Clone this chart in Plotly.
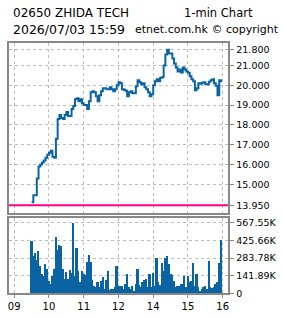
import plotly.graph_objects as go

# ---- data (3-minute samples, trading minutes from 09:30, lunch removed) ----
price = [14.1, 14.45, 14.45, 15.3, 15.9, 16.0, 16.1, 16.2, 16.35, 16.5,
         16.6, 16.7, 16.4, 16.35, 17.3, 18.3, 18.5, 18.35, 18.3, 18.5,
         18.65, 18.45, 18.45, 18.8, 18.95, 19.3, 19.35, 19.2, 19.3, 19.1,
         19.0, 19.0, 18.8, 19.2, 19.65, 19.7, 19.65, 19.45, 19.2, 19.5,
         19.7, 19.85, 19.85, 19.8, 19.8, 19.9, 19.8, 19.7, 19.8, 20.0,
         20.15, 20.1, 19.8, 19.78, 19.72, 19.45, 19.65, 19.7, 19.6, 19.6,
         19.95, 20.25, 20.15, 20.05, 20.1, 19.9, 19.8, 19.65, 19.45, 19.55,
         20.0, 20.2, 20.3, 20.2, 20.38, 20.4, 21.0, 21.55, 21.8, 21.6,
         21.6, 21.35, 21.1, 20.9, 20.7, 20.8, 20.65, 20.9, 20.8, 20.7,
         20.63, 20.46, 20.3, 20.2, 19.75, 19.85, 20.1, 20.08, 20.13, 20.15,
         20.05, 20.05, 20.18, 20.25, 20.3, 20.1, 19.98, 19.5, 20.25, 20.15]

volume_k = [425, 300, 326, 273, 339, 220, 160, 142, 234, 200,
            100, 76, 140, 200, 457, 352, 392, 380, 200, 116,
            175, 116, 190, 168, 567.55, 142, 365, 180, 95, 181,
            155, 150, 250, 313, 250, 110, 60, 50, 89, 50,
            102, 129, 37, 110, 181, 30, 40, 37, 55, 221,
            63, 60, 63, 37, 76, 155, 50, 37, 63, 20,
            75, 194, 70, 50, 90, 110, 116, 50, 155, 55,
            168, 60, 286, 89, 65, 247, 181, 286, 300, 234,
            155, 150, 102, 55, 63, 63, 76, 76, 140, 50,
            142, 90, 102, 247, 63, 160, 50, 20, 37, 50,
            63, 37, 260, 50, 45, 50, 76, 89, 247, 431]

step = 3
minutes = [i * step for i in range(len(price))]
volume = [v * 1000 for v in volume_k]

prev_close = 13.95
price_ticks = [13.95, 15, 16, 17, 18, 19, 20, 21, 21.8]
price_labels = ["13.950", "15.000", "16.000", "17.000", "18.000",
                "19.000", "20.000", "21.000", "21.800"]
vol_ticks = [0, 141890, 283780, 425660, 567550]
vol_labels = ["0", "141.89K", "283.78K", "425.66K", "567.55K"]
hour_ticks = [-30, 30, 90, 150, 210, 270, 330]
hour_labels = ["09", "10", "11", "12", "14", "15", "16"]

title_left1 = "02650 ZHIDA TECH"
title_right1 = "1-min Chart"
title_left2 = "2026/07/03 15:59"
title_right2 = "etnet.com.hk © copyright"

blue = "#0a64a4"
grid = "#bdbdbd"
frame = "#888888"
font = "DejaVu Sans"

W, H = 285, 318
xr = [-39.1, 339.8]

fig = go.Figure()
fig.add_trace(go.Scatter(x=minutes, y=price, mode="lines",
                         line=dict(color=blue, width=2, shape="hv"),
                         xaxis="x", yaxis="y", showlegend=False))
fig.add_trace(go.Scatter(x=[xr[0], xr[1]], y=[prev_close, prev_close], mode="lines",
                         line=dict(color="#ff0080", width=2),
                         xaxis="x", yaxis="y", showlegend=False))
fig.add_trace(go.Bar(x=minutes, y=volume, width=step, marker=dict(color=blue, line=dict(width=0)),
                     xaxis="x2", yaxis="y2", showlegend=False))

xd = [8 / W, 229 / W]
common_x = dict(range=xr, tickvals=hour_ticks, showgrid=True, gridcolor=grid,
                griddash="3px,3px", gridwidth=1, showline=True, mirror=True,
                linecolor=frame, linewidth=2, zeroline=False, domain=xd)

fig.update_layout(
    width=W, height=H, margin=dict(l=0, r=0, t=0, b=0),
    paper_bgcolor="white", plot_bgcolor="white", bargap=0,
    font=dict(family=font, size=9.5, color="black"),
    xaxis=dict(**common_x, showticklabels=False, ticks="", anchor="y"),
    xaxis2=dict(**common_x, ticktext=hour_labels, showticklabels=True,
                ticks="outside", ticklen=3, tickcolor=frame, anchor="y2",
                tickfont=dict(family=font, size=10)),
    yaxis=dict(domain=[1 - 216 / H, 1 - 42.7 / H], range=[13.56, 22.14],
               side="right", tickvals=price_ticks, ticktext=price_labels,
               ticks="outside", ticklen=4, tickcolor=frame,
               showgrid=True, gridcolor=grid, griddash="3px,3px",
               showline=True, mirror=True, linecolor=frame, linewidth=2,
               zeroline=False, anchor="x"),
    yaxis2=dict(domain=[1 - 298 / H, 1 - 221 / H], range=[0, 607000],
                side="right", tickvals=vol_ticks, ticktext=vol_labels,
                ticks="outside", ticklen=4, tickcolor=frame,
                showgrid=True, gridcolor=grid, griddash="3px,3px",
                showline=True, mirror=True, linecolor=frame, linewidth=2,
                zeroline=False, anchor="x2"),
    annotations=[
        dict(text=title_left1, x=10 / W, y=1 - 12 / H, xref="paper", yref="paper",
             xanchor="left", yanchor="middle", showarrow=False,
             font=dict(family=font, size=12)),
        dict(text=title_right1, x=182.7 / W, y=1 - 12 / H, xref="paper", yref="paper",
             xanchor="left", yanchor="middle", showarrow=False,
             font=dict(family=font, size=11.5)),
        dict(text=title_left2, x=10 / W, y=1 - 29 / H, xref="paper", yref="paper",
             xanchor="left", yanchor="middle", showarrow=False,
             font=dict(family=font, size=12.5)),
        dict(text=title_right2, x=282 / W, y=1 - 29 / H, xref="paper", yref="paper",
             xanchor="right", yanchor="middle", showarrow=False,
             font=dict(family=font, size=11)),
    ],
)

fig.write_html("out.html")
